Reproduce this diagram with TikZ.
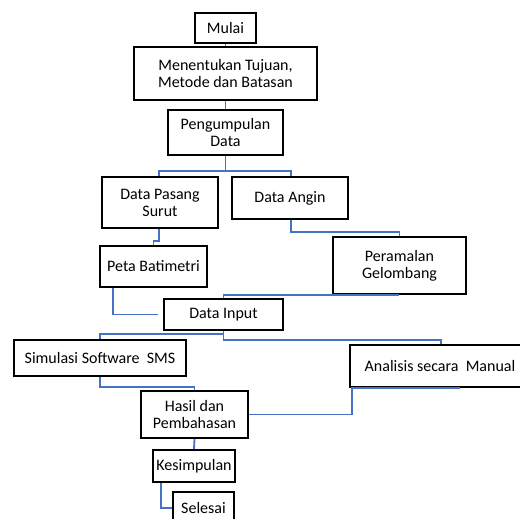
\documentclass[tikz,border=0pt]{standalone}
\usepackage{fontspec}
\setmainfont{Carlito}
\definecolor{linkblue}{HTML}{4472C4}

\begin{document}
\begin{tikzpicture}[x=1pt, y=-1pt,
  box/.style={draw, line width=2.2pt, inner sep=0pt, align=center,
    font=\fontsize{16}{17}\selectfont},
  link/.style={draw=linkblue, line width=1.8pt}]
  \useasboundingbox (0,0) rectangle (520,519);

  % Preparation steps
  \node[box, minimum width=61, minimum height=30] (mulai) at (225.5,28) {Mulai};
  \node[box, minimum width=183, minimum height=53] (tujuan) at (225.5,73.5) {Menentukan Tujuan,\\Metode dan Batasan};
  \node[box, minimum width=115, minimum height=45] (kumpul) at (225.5,132.5) {Pengumpulan\\Data};

  % Data collection
  \node[box, minimum width=116, minimum height=51] (pasang) at (160,202.5) {Data Pasang\\Surut};
  \node[box, minimum width=116, minimum height=42] (angin) at (290,198) {Data Angin};
  \node[box, minimum width=107, minimum height=41] (peta) at (153.5,266.5) {Peta Batimetri};
  \node[box, minimum width=133, minimum height=57] (ramal) at (399.5,265.5) {Peramalan\\Gelombang};
  \node[box, minimum width=119, minimum height=31] (input) at (223.5,314.5) {Data Input};

  % Analysis and results
  \node[box, minimum width=172, minimum height=36] (simulasi) at (100,358) {Simulasi Software~~SMS};
  \node[box, minimum width=180, minimum height=42] (analisis) at (440,366) {Analisis secara~~Manual};
  \node[box, minimum width=107, minimum height=47] (hasil) at (194.5,414.5) {Hasil dan\\Pembahasan};
  \node[box, minimum width=82, minimum height=32] (simpul) at (194,466) {Kesimpulan};
  \node[box, minimum width=61, minimum height=32] (selesai) at (203.5,508) {Selesai};

  % Connectors
  \draw[link] (mulai.south) -- (tujuan.north);
  \draw[link] (tujuan.south) -- (kumpul.north);
  \draw[link] (kumpul.south) -- ++(0,15) -| ([xshift=-1pt]pasang.north);
  \draw[link] (kumpul.south) -- ++(0,15) -| ([xshift=1pt]angin.north);
  \draw[link] ([xshift=-1pt]pasang.south) -- ++(0,12) -| (peta.north);
  \draw[link] ([xshift=1pt]angin.south) -- ++(0,12) -| (ramal.north);
  \draw[link, shorten >=5pt] ([xshift=14pt]peta.south west) |- (input.west);
  \draw[link] ([xshift=-1pt]ramal.south) -| (input.north);
  \draw[link] (input.south) -- ++(0,3) -| (simulasi.north);
  \draw[link] (input.south) -- ++(0,9) -| ([xshift=1pt]analisis.north);
  \draw[link] (simulasi.south) -- ++(0,10) -| (hasil.north);
  \draw[link] ([xshift=20pt]analisis.south) -- ([xshift=3pt]analisis.south west) |- (hasil.east);
  \draw[link] (hasil.south) -- (simpul.north);
  \draw[link] ([xshift=9pt]simpul.south west) |- (selesai.west);
\end{tikzpicture}
\end{document}
